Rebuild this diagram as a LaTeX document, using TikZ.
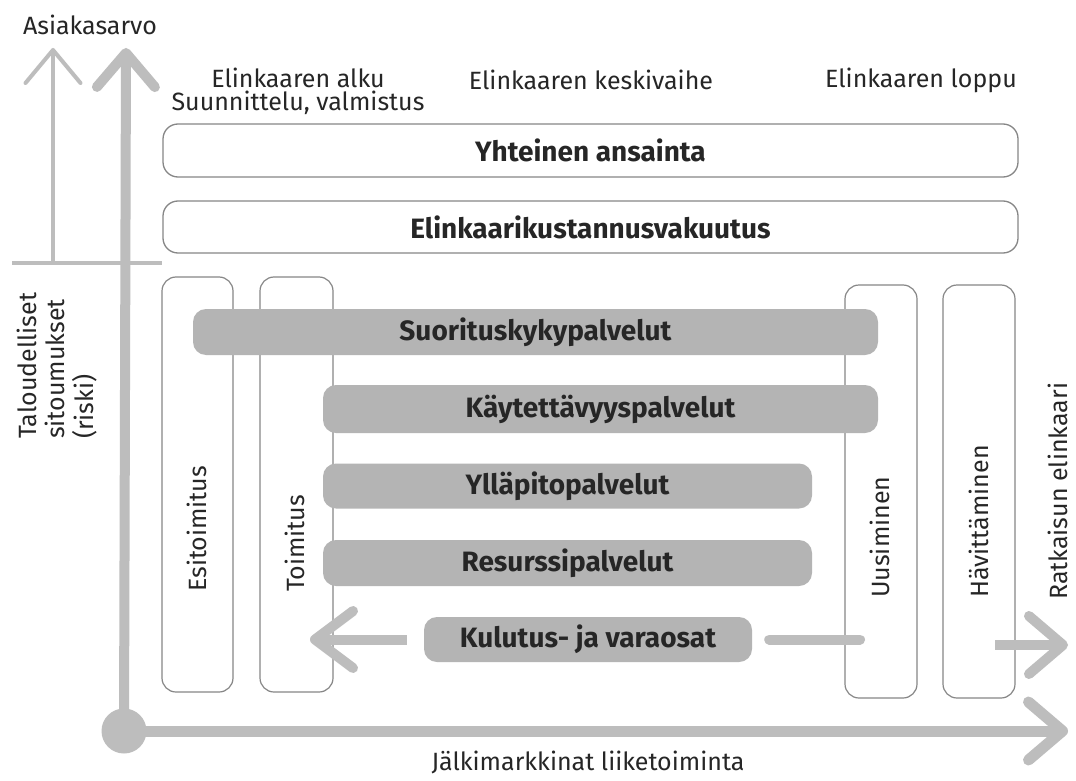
\documentclass[tikz,border=0pt]{standalone}
\usepackage{fontspec}
\setmainfont{Fira Sans}
\usetikzlibrary{arrows.meta}
\definecolor{axisgray}{HTML}{BDBDBD}
\definecolor{barfill}{HTML}{B4B4B4}
\definecolor{framegray}{HTML}{878787}
\definecolor{ink}{HTML}{262626}
\tikzset{
  band/.style={draw=framegray, line width=1.3pt, rounded corners=15pt, fill=white,
    inner sep=0pt, font=\bfseries\fontsize{28}{31}\selectfont, text=ink},
  column/.style={draw=framegray, line width=1.2pt, rounded corners=14pt, fill=white, inner sep=0pt},
  service/.style={fill=barfill, rounded corners=13pt, inner sep=0pt,
    font=\bfseries\fontsize{28}{31}\selectfont, text=ink},
  caption/.style={font=\fontsize{25}{29}\selectfont, text=ink, inner sep=0pt},
  vlabel/.style={caption, rotate=90, anchor=west},
  thinaxis/.style={draw=axisgray, line width=4pt, line cap=round},
  thickaxis/.style={draw=axisgray, line width=10pt},
  bigbarb/.style={-{Straight Barb[length=34pt, width=58pt, line cap=round, line join=round]}},
  smallbarb/.style={-{Straight Barb[length=33pt, width=55pt, line cap=round, line join=round]}},
  backbarb/.style={-{Straight Barb[length=38pt, width=57pt, line cap=round, line join=round]}},
}
\begin{document}
\begin{tikzpicture}[x=1pt, y=-1pt]
\useasboundingbox[fill=white] (0,0) rectangle (1076,781);

% axis end points
\coordinate (origin)   at (124,731);
\coordinate (valuetop) at (126,48);
\coordinate (timeend)  at (1068,731);
\coordinate (thinbase) at (53,263);
\coordinate (thintop)  at (53,48);
\coordinate (barleft)  at (12,263);
\coordinate (barright) at (162,263);

% phase headings
\node[caption] (head1) at (298,78) {Elinkaaren alku};
\node[caption] (head1b) at (298,103) {Suunnittelu, valmistus};
\node[caption] (head2) at (591,80) {Elinkaaren keskivaihe};
\node[caption] (head3) at (921,80) {Elinkaaren loppu};

% life-cycle wide bands
\node[band, minimum width=855pt, minimum height=53pt] (earn) at (590.5,150.5) {Yhteinen ansainta};
\node[band, minimum width=855pt, minimum height=52pt] (insure) at (590.5,227) {Elinkaarikustannusvakuutus};

% phase columns
\node[column, minimum width=71pt, minimum height=415pt] (pre)   at (197.5,484.5) {};
\node[column, minimum width=73pt, minimum height=415pt] (deliv) at (296.5,484.5) {};
\node[column, minimum width=72pt, minimum height=413pt] (renew) at (881,491.5) {};
\node[column, minimum width=72pt, minimum height=413pt] (disp)  at (979,491.5) {};

% service bars
\node[service, minimum width=685pt, minimum height=46pt] (perf)  at (535.5,332) {Suorituskykypalvelut};
\node[service, minimum width=555pt, minimum height=48pt] (avail) at (600.5,409) {Käytettävyyspalvelut};
\node[service, minimum width=489pt, minimum height=45pt] (maint) at (567.5,486) {Ylläpitopalvelut};
\node[service, minimum width=489pt, minimum height=46pt] (res)   at (567.5,563) {Resurssipalvelut};
\node[service, minimum width=328pt, minimum height=45pt] (parts) at (588,639.5) {Kulutus- ja varaosat};

% column labels
\node[vlabel] (prelab)   at (197,592) {Esitoimitus};
\node[vlabel] (delivlab) at (295,592) {Toimitus};
\node[vlabel] (renewlab) at (880,598) {Uusiminen};
\node[vlabel] (displab)  at (979,598) {Hävittäminen};
\node[vlabel] (lifelab)  at (1058,600) {Ratkaisun elinkaari};

% spare-part flows
\coordinate (backtip) at (310,639.5);
\coordinate (stubend) at (860,639.5);
\coordinate (outstart) at (995,645);
\coordinate (outtip) at (1068,645);
\draw[thickaxis, backbarb] ([xshift=-17pt]parts.west) -- (backtip);
\draw[thickaxis, line cap=round] ([xshift=17pt]parts.east) -- (stubend);
\draw[thickaxis, bigbarb] (outstart) -- (outtip);

% axes
\draw[thinaxis, line cap=butt] (barleft) -- (barright);
\draw[thinaxis, line cap=butt, smallbarb] (thinbase) -- (thintop);
\draw[thickaxis, bigbarb] (origin) -- (valuetop);
\draw[thickaxis, line width=11pt, bigbarb] (origin) -- (timeend);
\fill[axisgray] (origin) circle[radius=22.5pt];

% axis labels
\node[caption] (valuelab) at (90,25) {Asiakasarvo};
\node[caption, rotate=90, anchor=west, align=left, font=\fontsize{25}{28.5}\selectfont]
  (risklab) at (57,439) {Taloudelliset\\sitoumukset\\(riski)};
\node[caption] (timelab) at (588,762) {Jälkimarkkinat liiketoiminta};
\end{tikzpicture}
\end{document}
